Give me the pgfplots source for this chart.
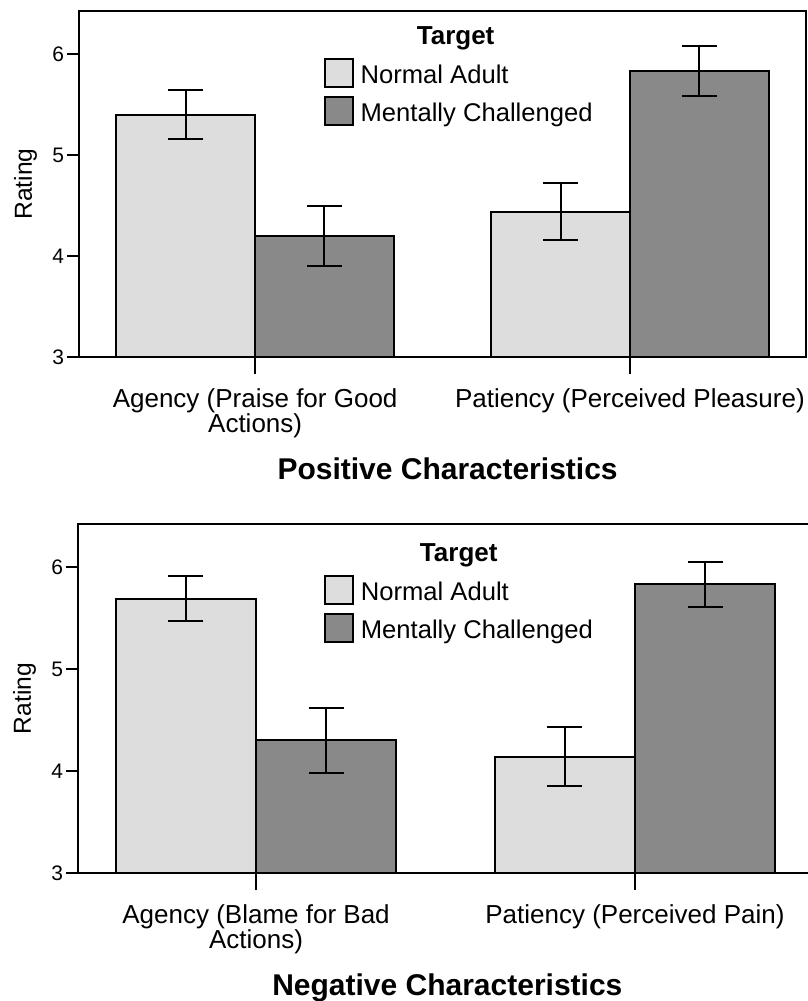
\documentclass[border=0pt]{standalone}
\usepackage{pgfplots}
\pgfplotsset{compat=1.18}
\usepackage{fontspec}
\setmainfont{Liberation Sans}
\definecolor{lightbar}{RGB}{221,221,221}
\definecolor{darkbar}{RGB}{137,137,137}

\pgfplotstableread{
x y e
0 5.40 0.245
1 4.44 0.285
}\topNA
\pgfplotstableread{
x y e
0 4.20 0.295
1 5.83 0.245
}\topMC
\pgfplotstableread{
x y e
0 5.69 0.22
1 4.14 0.29
}\botNA
\pgfplotstableread{
x y e
0 4.30 0.32
1 5.83 0.22
}\botMC

\pgfplotsset{
  mybars/.style={
    scale only axis,
    clip mode=individual,
    ybar, bar width=0.37,
    xmin=-0.47, xmax=1.47, ymin=3,
    ytick={3,4,5,6},
    xtick={0,1},
    tick align=outside,
    xtick pos=lower, ytick pos=left,
    axis line style={line width=1bp, black},
    every tick/.style={black, line width=1bp},
    xtick style={/pgfplots/major tick length=8.5bp},
    ytick style={/pgfplots/major tick length=6bp},
    yticklabel style={font=\fontsize{10.5bp}{12bp}\selectfont, inner sep=1bp, xshift=-2bp},
    /pgf/number format/assume math mode=true,
    xticklabel style={align=center, font=\fontsize{13bp}{12.5bp}\selectfont, yshift=-8bp},
    legend image code/.code={\draw[##1, line width=1bp] (0bp,-5.9bp) rectangle (14bp,8.1bp);},
    legend style={draw=none, fill=none, inner sep=0pt,
      font=\fontsize{12.8bp}{15bp}\selectfont, row sep=3bp,
      cells={anchor=west}, nodes={inner xsep=3.5bp}},
    legend cell align=left,
    error bars/error bar style={line width=1bp, black},
    error bars/error mark options={rotate=90, line width=1bp, mark size=8.75bp, black},
  },
  napl/.style={fill=lightbar, draw=black, line width=1bp, bar shift=-0.185,
    error bars/.cd, y dir=both, y explicit},
  mcpl/.style={fill=darkbar, draw=black, line width=1bp, bar shift=0.185,
    error bars/.cd, y dir=both, y explicit},
}

\begin{document}
\begin{tikzpicture}
\begin{axis}[mybars,
  at={(0,0)}, anchor=north west,
  width=363.5bp, height=173bp, ymax=6.426,
  xticklabels={{Agency (Praise for Good\\Actions)},{Patiency (Perceived Pleasure)}},
  legend style={at={(0.336,0.864)}, anchor=north west},
]
\addplot[napl] table[x=x, y=y, y error=e] {\topNA};
\addlegendentry{Normal Adult}
\addplot[mcpl] table[x=x, y=y, y error=e] {\topMC};
\addlegendentry{Mentally Challenged}
\node[font=\bfseries\fontsize{13bp}{15bp}\selectfont, anchor=base] at (axis cs:0.535,6.09) {Target};
\node[font=\bfseries\fontsize{15bp}{17bp}\selectfont, anchor=base] at ([yshift=-61bp]rel axis cs:0.507,0) {Positive Characteristics};
\node[font=\fontsize{12.3bp}{14bp}\selectfont, rotate=90, anchor=base] at ([xshift=-23.5bp]rel axis cs:0,0.5) {Rating};
\end{axis}

\begin{axis}[mybars,
  at={(-0.5bp,-256.5bp)}, anchor=north west,
  width=367.5bp, height=174.5bp, ymax=6.42,
  xticklabels={{Agency (Blame for Bad\\Actions)},{Patiency (Perceived Pain)}},
  legend style={at={(0.334,0.854)}, anchor=north west},
]
\addplot[napl] table[x=x, y=y, y error=e] {\botNA};
\addlegendentry{Normal Adult}
\addplot[mcpl] table[x=x, y=y, y error=e] {\botMC};
\addlegendentry{Mentally Challenged}
\node[font=\bfseries\fontsize{13bp}{15bp}\selectfont, anchor=base] at (axis cs:0.535,6.05) {Target};
\node[font=\bfseries\fontsize{15bp}{17bp}\selectfont, anchor=base] at ([yshift=-61bp]axis cs:0.505,3) {Negative Characteristics};
\node[font=\fontsize{12.3bp}{14bp}\selectfont, rotate=90, anchor=base] at ([xshift=-23.5bp]rel axis cs:0,0.5) {Rating};
\end{axis}
\pgfresetboundingbox
\path[use as bounding box] (-39.5bp,5.5bp) rectangle (364.5bp,-495bp);
\end{tikzpicture}
\end{document}
